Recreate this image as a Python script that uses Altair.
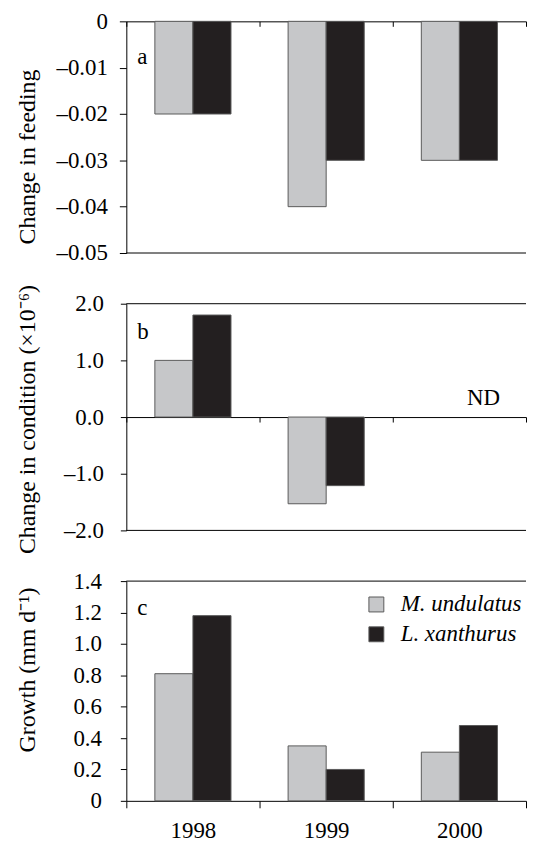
import altair as alt
import pandas as pd

years = ["1998", "1999", "2000"]
species = ["M. undulatus", "L. xanthurus"]

feeding_m = [-0.02, -0.04, -0.03]
feeding_l = [-0.02, -0.03, -0.03]
condition_m = [1.0, -1.53, None]
condition_l = [1.8, -1.21, None]
growth_m = [0.81, 0.35, 0.31]
growth_l = [1.18, 0.20, 0.48]

feeding_ticks = [0, -0.01, -0.02, -0.03, -0.04, -0.05]
condition_ticks = [2.0, 1.0, 0.0, -1.0, -2.0]
growth_ticks = [0, 0.2, 0.4, 0.6, 0.8, 1.0, 1.2, 1.4]

FONT = "Liberation Serif"
GRAY = "#c6c7c9"
BLACK = "#231f20"
W = 402


def frame(m, l):
    rows = []
    for i, y in enumerate(years):
        if m[i] is not None:
            rows.append({"year": y, "species": species[0], "v": m[i]})
        if l[i] is not None:
            rows.append({"year": y, "species": species[1], "v": l[i]})
    return pd.DataFrame(rows)


def panel(df, domain, ticks, label_expr, title, title_y, height, x_axis,
          letter, letter_y, tick_size, label_pad, rule_vals, legend=None, extra=None):
    xenc = alt.X("year:N", sort=years,
                 scale=alt.Scale(domain=years, paddingInner=0, paddingOuter=0),
                 axis=x_axis)
    xoff = alt.XOffset("species:N", sort=species,
                       scale=alt.Scale(domain=species, paddingInner=0, paddingOuter=0.75))
    yscale = alt.Scale(domain=domain, nice=False, zero=False)
    yaxis = alt.Axis(values=ticks, labelExpr=label_expr, title=title,
                     titleFont=FONT, titleFontSize=24, titleFontWeight="normal",
                     titleColor="black", titleX=-87, titleY=title_y, titleAngle=-90,
                     labelFont=FONT, labelFontSize=23, labelColor="black",
                     labelOverlap=False, labelBound=False, tickCount=len(ticks),
                     tickSize=tick_size, labelPadding=label_pad, tickColor="black",
                     domainColor="black", grid=False)
    yenc = alt.Y("v:Q", scale=yscale, axis=yaxis)
    bars = alt.Chart(df).mark_bar(stroke="#5a5a5a", strokeWidth=1).encode(
        x=xenc, xOffset=xoff, y=yenc,
        color=alt.Color("species:N", sort=species,
                        scale=alt.Scale(domain=species, range=[GRAY, BLACK]),
                        legend=legend),
    )
    rules = alt.Chart(pd.DataFrame({"v": rule_vals})).mark_rule(
        color="black", strokeWidth=1).encode(y=yenc)
    txt = alt.Chart(pd.DataFrame({"t": [letter]})).mark_text(
        align="left", baseline="alphabetic", font=FONT, fontSize=23, color="black"
    ).encode(text="t:N", x=alt.value(11), y=alt.value(letter_y))
    layers = [bars, rules, txt]
    if extra is not None:
        layers.append(extra(xenc, xoff, yenc))
    return alt.layer(*layers).properties(width=W, height=height)


tick_axis = dict(labels=False, title=None, tickBand="extent", tickSize=5,
                 tickColor="black", domainColor="black", grid=False, orient="bottom")

pa = panel(frame(feeding_m, feeding_l), [-0.05, 0], feeding_ticks,
           "datum.value == 0 ? '0' : '\u2013' + format(abs(datum.value), '.2f')",
           "Change in feeding", 136, 233,
           alt.Axis(offset=-233, **tick_axis), "a", 43, 7, 12, [-0.05])


def nd_layer(xenc, xoff, yenc):
    return alt.Chart(pd.DataFrame({"year": ["2000"], "species": [species[1]],
                                   "v": [0.0], "t": ["ND"]})).mark_text(
        baseline="alphabetic", dy=-12, dx=5, font=FONT, fontSize=23, color="black"
    ).encode(x=xenc, xOffset=xoff, y=yenc, text="t:N")


pb = panel(frame(condition_m, condition_l), [-2, 2], condition_ticks,
           "datum.value < 0 ? '\u2013' + format(abs(datum.value), '.1f') : format(datum.value, '.1f')",
           "Change in condition (\u00d710\u207b\u2076)", 116, 228,
           alt.Axis(offset=-114, **tick_axis), "b", 35, 6, 17, [2.0, -2.0],
           extra=nd_layer)

legend = alt.Legend(orient="none", legendX=240, legendY=12, title=None,
                    symbolType="square", symbolSize=225, symbolStrokeColor="#5a5a5a",
                    symbolStrokeWidth=1, symbolOpacity=1, labelFont=FONT,
                    labelFontSize=23, labelFontStyle="italic", labelColor="black",
                    labelOffset=13, rowPadding=6, padding=0)

pc = panel(frame(growth_m, growth_l), [0, 1.4], growth_ticks,
           "datum.value == 0 ? '0' : format(datum.value, '.1f')",
           "Growth (mm d\u207b\u00b9)", 89, 221,
           alt.Axis(labelFont=FONT, labelFontSize=23, labelColor="black", labelAngle=0,
                    labelPadding=12, title=None, tickBand="extent", tickSize=7,
                    tickColor="black", domainColor="black", grid=False),
           "c", 34, 6, 19, [1.4], legend=legend)

chart = alt.vconcat(pa, pb, pc, spacing=51, bounds="flush").resolve_legend(
    color="independent").properties(
    padding={"left": 7, "top": 0, "right": 0, "bottom": 0},
    background="white",
).configure_view(stroke=None)

chart.save("out.html", embed_options={"renderer": "svg", "actions": False})
